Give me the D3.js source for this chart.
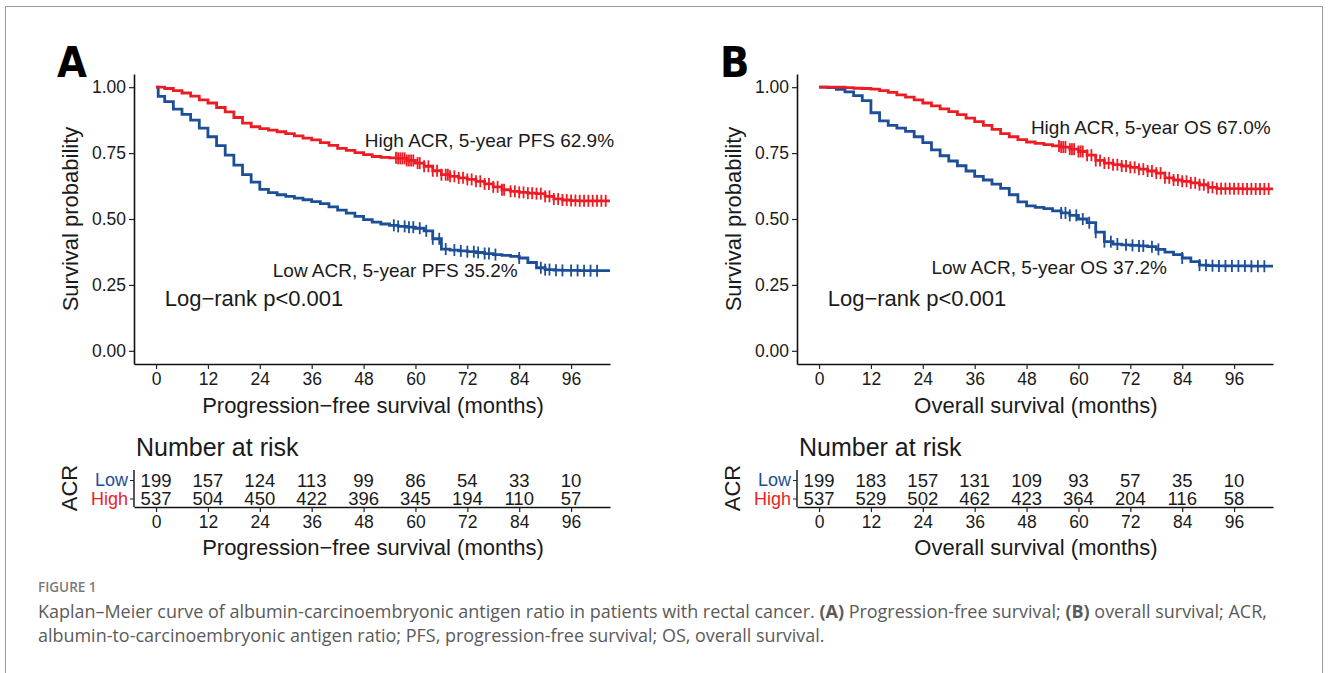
<!DOCTYPE html>
<html>
<head>
<meta charset="utf-8">
<script src="https://cdn.jsdelivr.net/npm/d3@7"></script>
<style>
  body { margin: 0; background: #fff; }
  .plot text { font-family: "Liberation Sans", Arial, sans-serif; }
</style>
</head>
<body>
<div id="chart"></div>
<script>
// time grid (months) the step values are read at
const months = [0, 0.5, 2, 4, 6, 8, 10, 12, 14, 16, 18, 20, 22, 24, 26, 28, 30, 32, 34, 36, 38, 40,
                42, 44, 46, 48, 50, 52, 54, 56, 58, 60, 62, 64, 66, 68, 70, 72, 74, 76, 78, 80,
                82, 84, 86, 88, 90, 92, 94, 96, 98, 100, 102, 104];

// Panel A - progression-free survival
const pfsHigh = [1.000, 1.000, 0.995, 0.987, 0.978, 0.966, 0.952, 0.940, 0.923, 0.906, 0.885, 0.864,
                 0.850, 0.843, 0.837, 0.831, 0.824, 0.815, 0.807, 0.800, 0.790, 0.779, 0.768, 0.760,
                 0.752, 0.744, 0.737, 0.734, 0.732, 0.730, 0.722, 0.712, 0.700, 0.683, 0.668, 0.662,
                 0.656, 0.650, 0.643, 0.633, 0.622, 0.611, 0.605, 0.601, 0.598, 0.596, 0.586, 0.576,
                 0.572, 0.570, 0.569, 0.569, 0.569, 0.569];
const pfsLow = [1.000, 0.965, 0.945, 0.917, 0.897, 0.875, 0.845, 0.812, 0.778, 0.742, 0.704, 0.668,
                0.640, 0.612, 0.600, 0.592, 0.586, 0.579, 0.573, 0.566, 0.558, 0.546, 0.534, 0.522,
                0.510, 0.498, 0.488, 0.481, 0.476, 0.472, 0.469, 0.465, 0.455, 0.425, 0.386, 0.382,
                0.379, 0.376, 0.373, 0.369, 0.365, 0.362, 0.358, 0.352, 0.335, 0.315, 0.308, 0.306,
                0.305, 0.305, 0.304, 0.304, 0.304, 0.304];

// Panel B - overall survival
const osHigh = [1.000, 1.000, 1.000, 1.000, 0.998, 0.996, 0.995, 0.993, 0.987, 0.980, 0.971, 0.962,
                0.952, 0.940, 0.929, 0.918, 0.907, 0.896, 0.883, 0.869, 0.855, 0.840, 0.824, 0.812,
                0.801, 0.792, 0.787, 0.782, 0.777, 0.773, 0.765, 0.756, 0.742, 0.722, 0.712, 0.706,
                0.701, 0.696, 0.689, 0.682, 0.674, 0.656, 0.648, 0.643, 0.637, 0.630, 0.620, 0.615,
                0.615, 0.615, 0.614, 0.614, 0.614, 0.614];
const osLow = [1.000, 1.000, 0.998, 0.992, 0.982, 0.968, 0.949, 0.903, 0.872, 0.855, 0.845, 0.832,
               0.812, 0.790, 0.762, 0.740, 0.720, 0.702, 0.682, 0.662, 0.648, 0.632, 0.616, 0.592,
               0.565, 0.550, 0.544, 0.539, 0.531, 0.523, 0.514, 0.500, 0.486, 0.450, 0.414, 0.405,
               0.402, 0.400, 0.398, 0.395, 0.385, 0.374, 0.365, 0.352, 0.338, 0.325, 0.323, 0.322,
               0.322, 0.322, 0.322, 0.321, 0.321, 0.321];

// censoring marks (months)
const pfsHighCensor = [55.5, 56, 56.5, 57, 57.5, 58, 58.5, 59, 59.5, 60.5, 61, 62, 63, 64, 65, 66, 67, 67.5,
                       68, 69, 70, 71, 72, 73, 74, 75, 76, 77, 78, 79, 80, 80.5, 82, 83, 84, 85, 86, 87,
                       88, 89, 90, 91, 92, 93, 94, 95, 96, 97, 98, 99, 100, 101, 102, 103, 104];
const pfsLowCensor = [55, 56, 57.5, 58.5, 59.5, 61, 62.5, 64, 65.5, 67, 69, 70.5, 72, 73.5, 74.5, 76, 77,
                      78.5, 84, 89, 90, 91, 92.5, 94, 96, 97.5, 99, 100.5, 102];
const osHighCensor = [55.5, 56, 56.5, 57, 58, 58.5, 59, 60, 60.5, 61, 62, 63, 64, 65, 66, 67, 68, 69, 70,
                      71, 72, 73, 74, 75, 76, 77, 78, 79, 80, 81, 82, 83, 84, 85, 86, 87, 88, 89, 90, 91,
                      92, 93, 94, 95, 96, 97, 98, 99, 100, 101, 102, 103, 104];
const osLowCensor = [56, 57, 58, 59.5, 61, 62.5, 64, 66, 67.5, 69, 71, 72.5, 74, 75, 77, 78.5, 84, 88,
                     89.5, 91, 92.5, 94, 95.5, 97, 98.5, 100, 101.5, 103];

// number at risk
const riskTimes = [0, 12, 24, 36, 48, 60, 72, 84, 96];
const pfsRiskLow = [199, 157, 124, 113, 99, 86, 54, 33, 10];
const pfsRiskHigh = [537, 504, 450, 422, 396, 345, 194, 110, 57];
const osRiskLow = [199, 183, 157, 131, 109, 93, 57, 35, 10];
const osRiskHigh = [537, 529, 502, 462, 423, 364, 204, 116, 58];

const yTicks = [0, 0.25, 0.5, 0.75, 1];

const RED = "#ED1C24", BLUE = "#1D4E98";

const svg = d3.select("#chart").append("svg")
    .attr("width", 1328)
    .attr("height", 673);

svg.append("rect").attr("width", 1328).attr("height", 673).attr("fill", "#fff");
svg.append("rect")
    .attr("x", 5.5).attr("y", 6.5)
    .attr("width", 1317).attr("height", 700)
    .attr("fill", "none")
    .attr("stroke", "#9a9a9a");

function drawPanel(offsetX, p) {
    let g = svg.append("g").attr("class", "plot").attr("transform", "translate(" + offsetX + ",0)");

    let x = d3.scaleLinear().domain([-5.1, 105]).range([134, 610]);
    let y = d3.scaleLinear().domain([-0.05, 1.05]).range([364, 74]);

    // panel letter
    g.append("text")
        .attr("x", 57).attr("y", 77)
        .style("font-family", "'Liberation Sans Narrow', 'DejaVu Sans Condensed', sans-serif")
        .style("font-weight", "bold")
        .style("font-size", "43px")
        .text(p.letter);

    // axes
    let yAxis = g.append("g")
        .attr("transform", "translate(134,0)")
        .call(d3.axisLeft(y).tickValues(yTicks).tickFormat(d3.format(".2f")).tickSize(5).tickPadding(3).tickSizeOuter(0));
    let xAxis = g.append("g")
        .attr("transform", "translate(0,364)")
        .call(d3.axisBottom(x).tickValues(riskTimes).tickSize(5).tickPadding(4).tickSizeOuter(0));
    [yAxis, xAxis].forEach(a => {
        a.select(".domain").attr("stroke", "#111").attr("stroke-width", 1.6);
        a.selectAll(".tick line").attr("stroke", "#222").attr("stroke-width", 1.2);
        a.selectAll(".tick text").attr("fill", "#1a1a1a")
            .style("font-family", "'Liberation Sans', Arial, sans-serif").style("font-size", "17.5px");
    });

    g.append("text")
        .attr("transform", "translate(78,219) rotate(-90)")
        .attr("text-anchor", "middle")
        .style("font-size", "22px").attr("fill", "#1a1a1a")
        .text("Survival probability");
    g.append("text")
        .attr("x", 373).attr("y", 413)
        .attr("text-anchor", "middle")
        .style("font-size", "22px").attr("fill", "#1a1a1a")
        .text(p.xTitle);

    // KM step curves
    let line = d3.line()
        .x(d => x(d[0]))
        .y(d => y(d[1]))
        .curve(d3.curveStepAfter);

    let series = [
        {vals: p.low, censor: p.lowCensor, color: BLUE},
        {vals: p.high, censor: p.highCensor, color: RED}
    ];
    series.forEach(s => {
        let pts = months.map((t, i) => [t, s.vals[i]]);
        pts.push([105, s.vals[s.vals.length - 1]]);
        g.append("path")
            .datum(pts)
            .attr("d", line)
            .attr("fill", "none")
            .attr("stroke", s.color)
            .attr("stroke-width", 2.8);
        g.selectAll(null)
            .data(s.censor)
            .enter()
            .append("line")
            .attr("x1", d => x(d)).attr("x2", d => x(d))
            .attr("y1", d => y(s.vals[d3.bisectRight(months, d) - 1]) - 6)
            .attr("y2", d => y(s.vals[d3.bisectRight(months, d) - 1]) + 6)
            .attr("stroke", s.color)
            .attr("stroke-width", 1.8);
    });

    // annotations
    g.append("text").attr("x", x(p.highLab[0])).attr("y", y(p.highLab[1]))
        .attr("dy", "0.35em").style("font-size", "19px").attr("fill", "#1a1a1a")
        .text(p.highText);
    g.append("text").attr("x", x(p.lowLab[0])).attr("y", y(p.lowLab[1]))
        .attr("dy", "0.35em").style("font-size", "19px").attr("fill", "#1a1a1a")
        .text(p.lowText);
    g.append("text").attr("x", x(2)).attr("y", y(0.198))
        .attr("dy", "0.35em").style("font-size", "22px").attr("fill", "#1a1a1a")
        .text("Log\u2212rank p<0.001");

    // number at risk table
    g.append("text").attr("x", 136).attr("y", 456)
        .style("font-size", "25px").attr("fill", "#1a1a1a")
        .text("Number at risk");

    let ry = d3.scalePoint().domain(["Low", "High"]).range([480, 498.5]);
    let rAxisY = g.append("g")
        .attr("transform", "translate(134,0)")
        .call(d3.axisLeft(ry).tickSize(4).tickPadding(2).tickSizeOuter(0));
    rAxisY.select(".domain").attr("d", "M0,470V507").attr("stroke", "#111").attr("stroke-width", 1.4);
    rAxisY.selectAll(".tick line").attr("stroke", "#222");
    rAxisY.selectAll(".tick text")
        .style("font-size", "18px")
        .attr("fill", d => d === "Low" ? BLUE : RED);

    let rAxisX = g.append("g")
        .attr("transform", "translate(0,507)")
        .call(d3.axisBottom(x).tickValues(riskTimes).tickSize(5).tickPadding(4).tickSizeOuter(0));
    rAxisX.select(".domain").attr("stroke", "#111").attr("stroke-width", 1.6);
    rAxisX.selectAll(".tick line").attr("stroke", "#222").attr("stroke-width", 1.2);
    rAxisX.selectAll(".tick text").attr("fill", "#1a1a1a").style("font-size", "17.5px");

    g.append("text")
        .attr("transform", "translate(77,488) rotate(-90)")
        .attr("text-anchor", "middle")
        .style("font-size", "22px").attr("fill", "#1a1a1a")
        .text("ACR");

    [["Low", p.riskLow], ["High", p.riskHigh]].forEach(r => {
        g.selectAll(null)
            .data(r[1])
            .enter()
            .append("text")
            .attr("x", (d, i) => x(riskTimes[i]))
            .attr("y", ry(r[0]))
            .attr("dy", "0.36em")
            .attr("text-anchor", "middle")
            .style("font-size", "18.5px").attr("fill", "#1a1a1a")
            .text(d => d);
    });

    g.append("text")
        .attr("x", 373).attr("y", 555)
        .attr("text-anchor", "middle")
        .style("font-size", "22px").attr("fill", "#1a1a1a")
        .text(p.xTitle);
}

drawPanel(0, {
    letter: "A", xTitle: "Progression\u2212free survival (months)",
    high: pfsHigh, low: pfsLow, highCensor: pfsHighCensor, lowCensor: pfsLowCensor,
    highText: "High ACR, 5-year PFS 62.9%", highLab: [48.3, 0.797],
    lowText: "Low ACR, 5-year PFS 35.2%", lowLab: [27, 0.306],
    riskLow: pfsRiskLow, riskHigh: pfsRiskHigh
});
drawPanel(663, {
    letter: "B", xTitle: "Overall survival (months)",
    high: osHigh, low: osLow, highCensor: osHighCensor, lowCensor: osLowCensor,
    highText: "High ACR, 5-year OS 67.0%", highLab: [49, 0.846],
    lowText: "Low ACR, 5-year OS 37.2%", lowLab: [26, 0.316],
    riskLow: osRiskLow, riskHigh: osRiskHigh
});

// caption
const capFont = "'Open Sans', 'Noto Sans', sans-serif";
svg.append("text").attr("x", 38).attr("y", 592)
    .style("font-family", capFont)
    .style("font-size", "13.5px").style("font-weight", 600).attr("fill", "#7a7a7a")
    .text("FIGURE 1");
let l1 = svg.append("text").attr("x", 38).attr("y", 618)
    .style("font-family", capFont)
    .style("font-size", "16px").attr("fill", "#5a5a5a");
l1.append("tspan").text("Kaplan\u2013Meier curve of albumin-carcinoembryonic antigen ratio in patients with rectal cancer. ");
l1.append("tspan").style("font-weight", "bold").text("(A)");
l1.append("tspan").text(" Progression-free survival; ");
l1.append("tspan").style("font-weight", "bold").text("(B)");
l1.append("tspan").text(" overall survival; ACR,");
let l2 = svg.append("text").attr("x", 38).attr("y", 642)
    .style("font-family", capFont)
    .style("font-size", "16px").attr("fill", "#5a5a5a")
    .text("albumin-to-carcinoembryonic antigen ratio; PFS, progression-free survival; OS, overall survival.");

// fit first caption line to the reference width
let capSize = 16 * 1230 / l1.node().getComputedTextLength();
l1.style("font-size", capSize + "px");
l2.style("font-size", capSize + "px");
</script>
</body>
</html>
